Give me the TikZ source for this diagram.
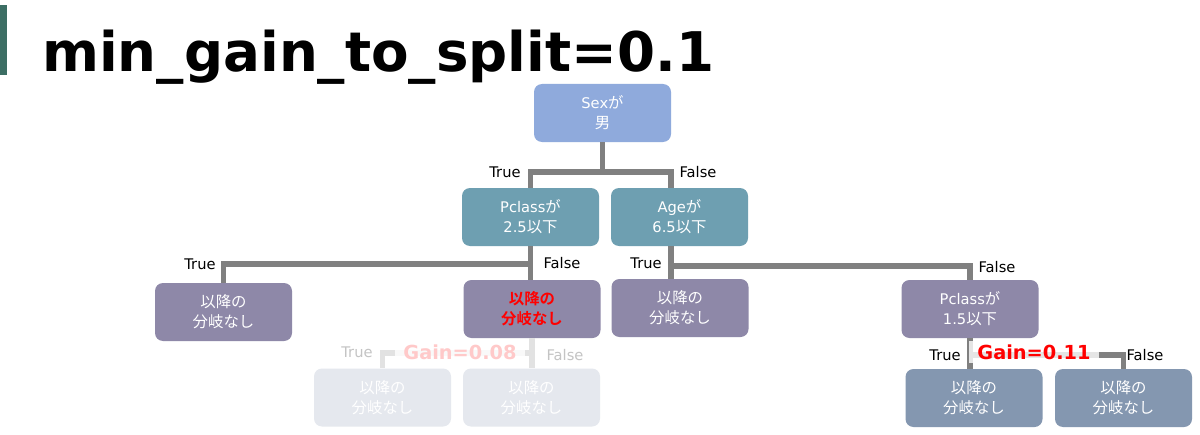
\documentclass[tikz,border=0pt]{standalone}
\usepackage{fontspec}
\setmainfont{DejaVu Sans}
\newfontfamily\jp[Scale=1.05,BoldFont={Noto Sans CJK JP Bold}]{Noto Sans CJK JP}
\usetikzlibrary{positioning}
\newcommand{\ja}[1]{{\jp #1}}
\definecolor{barc}{HTML}{3C6E64}
\definecolor{rootc}{HTML}{8FAADC}
\definecolor{midc}{HTML}{6E9FB1}
\definecolor{leafc}{HTML}{8E88A8}
\definecolor{lowc}{HTML}{8497B0}
\definecolor{fadec}{HTML}{E5E8EE}
\definecolor{linec}{HTML}{808080}
\definecolor{flinec}{HTML}{E2E2E2}
\definecolor{ftxt}{HTML}{C4C4C4}
\definecolor{fred}{HTML}{FFC9C9}
\tikzset{
  box/.style={rounded corners=6pt,minimum width=102.75pt,minimum height=43.5pt,align=center,text=white,font=\fontsize{11}{15}\selectfont,inner sep=2pt},
  conn/.style={linec,line width=4pt},
  fconn/.style={flinec,line width=4pt},
  tf/.style={font=\fontsize{11}{13}\selectfont,inner sep=0pt},
  gain/.style={font=\bfseries\fontsize{14.5}{16}\selectfont,fill=white,fill opacity=0.8,text opacity=1,inner xsep=6pt,inner ysep=3pt}
}
\begin{document}
\begin{tikzpicture}[x=0.75pt,y=-0.75pt]
\useasboundingbox (0,0) rectangle (1200,435);
\fill[white] (0,0) rectangle (1200,435);
\fill[barc] (0,5) rectangle (7,75);
\node[anchor=base west,font=\bfseries\fontsize{41}{44}\selectfont,inner sep=0pt] (title) at (42,72) {min\_gain\_to\_split=0.1};

\node[box,fill=rootc] (sex) at (602.5,113) {Sex\ja{が}\\\ja{男}};
\node[box,fill=midc] (pcA) at (530.5,217) {Pclass\ja{が}\\2.5\ja{以下}};
\node[box,fill=midc] (age) at (679.5,217) {Age\ja{が}\\6.5\ja{以下}};
\node[box,fill=leafc] (leafA) at (223.5,312) {\ja{以降の}\\\ja{分岐なし}};
\node[box,fill=leafc,text=red,font=\bfseries\fontsize{11}{15}\selectfont] (leafB) at (532,309) {\ja{以降の}\\\ja{分岐なし}};
\node[box,fill=leafc] (leafC) at (680,308) {\ja{以降の}\\\ja{分岐なし}};
\node[box,fill=leafc] (pcB) at (970,309) {Pclass\ja{が}\\1.5\ja{以下}};
\node[box,fill=fadec] (fadeA) at (382.5,397.5) {\ja{以降の}\\\ja{分岐なし}};
\node[box,fill=fadec] (fadeB) at (531.5,397.5) {\ja{以降の}\\\ja{分岐なし}};
\node[box,fill=lowc] (lowA) at (974,398) {\ja{以降の}\\\ja{分岐なし}};
\node[box,fill=lowc] (lowB) at (1123.5,398) {\ja{以降の}\\\ja{分岐なし}};

\coordinate (sexJ) at (602.5,172);
\coordinate (pcAJ) at (530.5,264);
\coordinate (ageJ) at (671,266);
\coordinate (leafBJ) at (533,353);
\coordinate (pcBJ) at (971,355);
\draw[conn] (sex.south) -- (sexJ);
\draw[conn] (pcA.north) |- (sexJ) -| ([xshift=-6.5pt]age.north);
\draw[conn] (pcA.south) -- (pcA.south |- leafB.north);
\draw[conn] (pcAJ) -| (leafA.north);
\draw[conn] ([xshift=-6.5pt]age.south) -- ([xshift=-6.5pt]age.south |- leafC.north);
\draw[conn] (ageJ) -| (pcB.north);
\draw[fconn] (leafB.south) -- (leafB.south |- fadeB.north);
\draw[fconn] (leafBJ) -| (fadeA.north);
\draw[conn] (pcB.south) -- (pcB.south |- lowA.north);
\draw[conn] (pcBJ) -| (lowB.north);

\node[tf] (sexT) at (505,172) {True};
\node[tf] (sexF) at (698,172) {False};
\node[tf] (pcAT) at (200,264) {True};
\node[tf] (pcAF) at (562,263) {False};
\node[tf] (ageT) at (646,263) {True};
\node[tf] (ageF) at (997,267) {False};
\node[tf,text=ftxt] (leafBT) at (357,352) {True};
\node[tf,text=ftxt] (leafBF) at (565,355) {False};
\node[tf] (pcBT) at (945,355) {True};
\node[tf] (pcBF) at (1145,355) {False};
\node[gain,text=fred] (gainA) at (460,352) {Gain=0.08};
\node[gain,text=red] (gainB) at (1034,352) {Gain=0.11};
\end{tikzpicture}
\end{document}
